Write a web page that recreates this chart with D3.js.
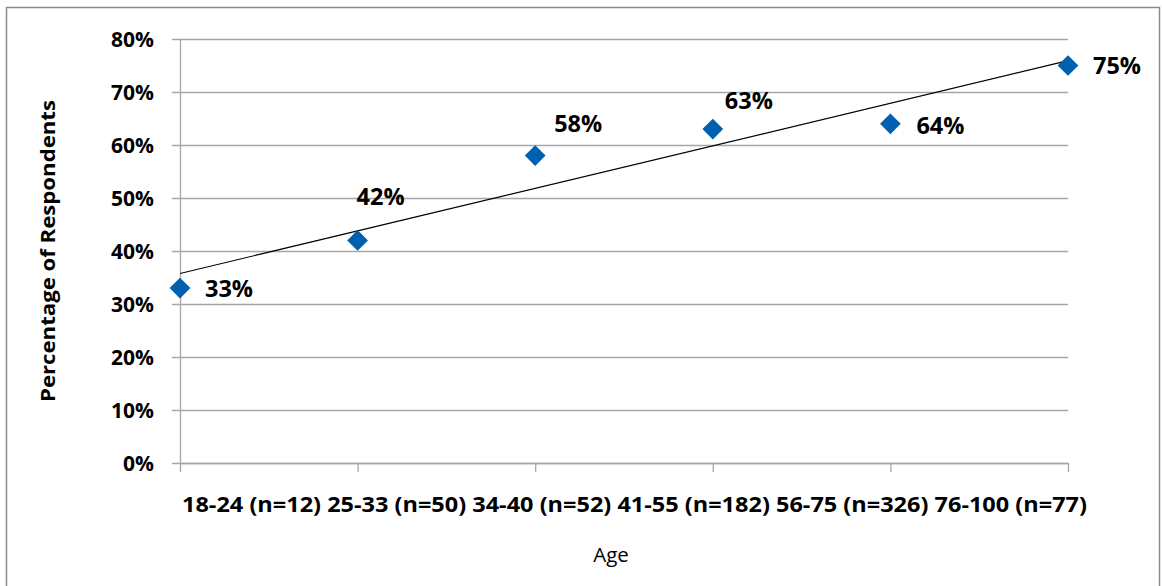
<!DOCTYPE html>
<html>
<head>
<meta charset="utf-8">
<script src="https://cdn.jsdelivr.net/npm/d3@7"></script>
<style>
  html, body { margin: 0; padding: 0; background: #fff; }
  svg { display: block; }
  text { font-family: "Open Sans", sans-serif; fill: #000; }
</style>
</head>
<body>
<svg id="chart" width="1162" height="586"></svg>
<script>
// Share of respondents by age group
const categories = ["18-24 (n=12)", "25-33 (n=50)", "34-40 (n=52)", "41-55 (n=182)", "56-75 (n=326)", "76-100 (n=77)"];
const percentages = [33, 42, 58, 63, 64, 75];
const yTicks = [0, 10, 20, 30, 40, 50, 60, 70, 80];

// Where each value label sits relative to its marker
const labelOffsets = [[25, 0], [-1, -44], [19, -32], [12, -29], [26, 2], [25, 0]];

const svg = d3.select("#chart");
const plot = { left: 180, right: 1068, top: 39, bottom: 463 };
const FONT = "'Open Sans', sans-serif";
const GRID = "#a6a6a6";

// outer chart frame
svg.append("rect")
  .attr("x", 6.5).attr("y", 7.5)
  .attr("width", 1153).attr("height", 620)
  .attr("fill", "none").attr("stroke", "#8c8c8c").attr("stroke-width", 1.5);

const x = d3.scaleLinear().domain([0, categories.length - 1]).range([plot.left, plot.right]);
const y = d3.scaleLinear().domain([0, 80]).range([plot.bottom, plot.top]);

// horizontal gridlines + y axis
const yAxis = d3.axisLeft(y)
  .tickValues(yTicks)
  .tickFormat(d => d + "%")
  .tickSize(-(plot.right - plot.left))
  .tickSizeOuter(0)
  .tickPadding(26);
const gy = svg.append("g").attr("transform", `translate(${plot.left},0)`).call(yAxis);
gy.select(".domain").attr("stroke", GRID).attr("stroke-width", 1.3);
gy.selectAll(".tick line").attr("stroke", GRID).attr("stroke-width", 1.3).attr("x1", -8);
gy.selectAll(".tick text")
  .attr("font-family", FONT)
  .attr("font-size", 21).attr("font-weight", "bold").attr("fill", "#000")
  .attr("dy", "0.36em");

// x axis line with category ticks
const xAxis = d3.axisBottom(x)
  .tickValues(d3.range(categories.length))
  .tickFormat("")
  .tickSize(9)
  .tickSizeOuter(0);
const gx = svg.append("g").attr("transform", `translate(0,${plot.bottom})`).call(xAxis);
gx.select(".domain").attr("stroke", GRID).attr("stroke-width", 1.3);
gx.selectAll(".tick line").attr("stroke", GRID).attr("stroke-width", 1.3);

// category labels run as one line below the axis
const catText = svg.append("text")
  .attr("x", 182).attr("y", 512)
  .attr("font-size", 20.5).attr("font-weight", "bold")
  .attr("textLength", 905).attr("lengthAdjust", "spacingAndGlyphs");
catText.selectAll("tspan")
  .data(categories)
  .join("tspan")
  .text((d, i) => (i ? " " : "") + d);

// axis titles
svg.append("text")
  .attr("transform", `translate(55,251) rotate(-90)`)
  .attr("text-anchor", "middle")
  .attr("font-size", 19.5).attr("font-weight", "bold")
  .attr("textLength", 302).attr("lengthAdjust", "spacingAndGlyphs")
  .text("Percentage of Respondents");

svg.append("text")
  .attr("x", 611).attr("y", 562)
  .attr("text-anchor", "middle")
  .attr("font-size", 20.5)
  .text("Age");

// least-squares linear trendline
const xs = d3.range(categories.length);
const mx = d3.mean(xs), my = d3.mean(percentages);
const slope = d3.sum(xs, (v, i) => (v - mx) * (percentages[i] - my)) / d3.sum(xs, v => (v - mx) ** 2);
const intercept = my - slope * mx;
const trend = [0, categories.length - 1].map(v => [v, intercept + slope * v]);
svg.append("path")
  .attr("d", d3.line().x(d => x(d[0])).y(d => y(d[1]))(trend))
  .attr("fill", "none").attr("stroke", "#000").attr("stroke-width", 1.2);

// diamond markers
const diamond = d3.symbol().type(d3.symbolSquare).size(215);
svg.append("g").selectAll("path")
  .data(percentages)
  .join("path")
  .attr("d", diamond)
  .attr("transform", (d, i) => `translate(${x(i)},${y(d)}) rotate(45)`)
  .attr("fill", "#0060b0");

// value labels
svg.append("g").selectAll("text")
  .data(percentages)
  .join("text")
  .attr("x", (d, i) => x(i) + labelOffsets[i][0])
  .attr("y", (d, i) => y(d) + labelOffsets[i][1])
  .attr("dy", "0.36em")
  .attr("font-size", 23.5).attr("font-weight", "bold")
  .text(d => d + "%");
</script>
</body>
</html>
